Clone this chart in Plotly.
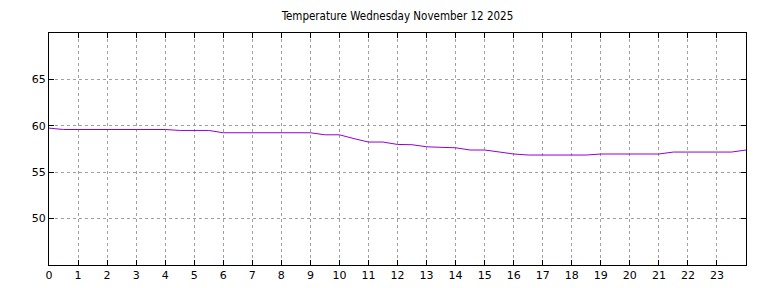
import plotly.graph_objects as go

hours = [0, 0.5, 1, 1.5, 2, 2.5, 3, 3.5, 4, 4.5, 5, 5.5, 6, 6.5, 7, 7.5, 8, 8.5, 9, 9.5,
         10, 10.5, 11, 11.5, 12, 12.5, 13, 13.5, 14, 14.5, 15, 15.5, 16, 16.5, 17, 17.5,
         18, 18.5, 19, 19.5, 20, 20.5, 21, 21.5, 22, 22.5, 23, 23.5, 24]
temps = [59.75, 59.6, 59.6, 59.6, 59.6, 59.6, 59.6, 59.6, 59.6, 59.5, 59.5, 59.5, 59.25, 59.25,
         59.25, 59.25, 59.25, 59.25, 59.25, 59.03, 59.03, 58.62, 58.25, 58.25, 57.99, 57.96,
         57.74, 57.68, 57.63, 57.39, 57.39, 57.18, 56.96, 56.85, 56.85, 56.85, 56.85, 56.85,
         56.96, 56.96, 56.96, 56.96, 56.96, 57.17, 57.17, 57.17, 57.17, 57.17, 57.39]

x_ticks = list(range(0, 24))
y_ticks = [50, 55, 60, 65]
title_text = "Temperature Wednesday November 12 2025"

fig = go.Figure()
fig.add_trace(go.Scatter(x=hours, y=temps, mode="lines",
                         line=dict(color="#9400d3", width=1), hoverinfo="x+y"))

axis_common = dict(
    showline=True, linecolor="black", linewidth=1, mirror="ticks",
    ticks="inside", ticklen=5, tickcolor="black", tickwidth=1,
    showgrid=True, gridcolor="#a0a0a0", griddash="3px,3px", gridwidth=1,
    zeroline=False, automargin=False,
    tickfont=dict(family="DejaVu Sans", size=11, color="black"),
)

fig.update_layout(
    width=768, height=288,
    margin=dict(l=49, r=22, t=33, b=23),
    paper_bgcolor="white", plot_bgcolor="white",
    showlegend=False,
    title=dict(text=title_text, x=0.5175, xanchor="center", y=0.945, yanchor="middle",
               font=dict(family="DejaVu Sans Condensed, Liberation Sans Narrow, DejaVu Sans", size=11.5, color="black")),
    xaxis=dict(range=[0, 24], tickmode="array", tickvals=x_ticks, **axis_common),
    yaxis=dict(range=[45, 70], tickmode="array", tickvals=y_ticks, **axis_common),
)

fig.write_html("out.html")
